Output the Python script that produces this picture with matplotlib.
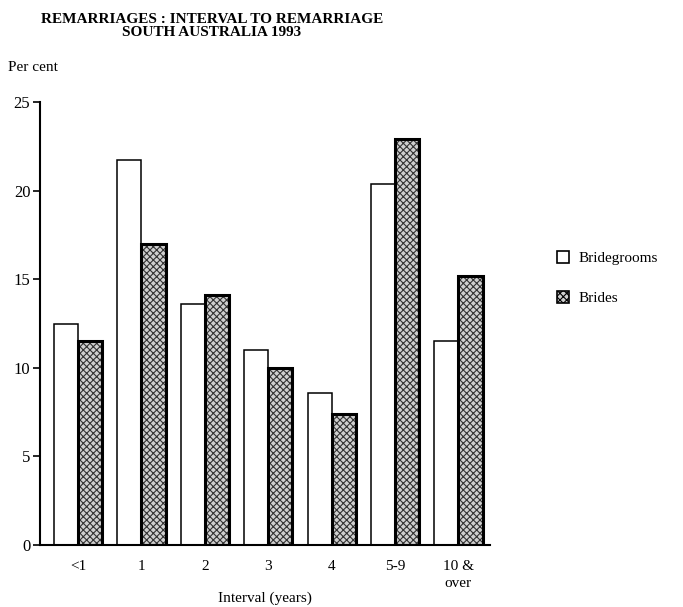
import numpy as np
import matplotlib.pyplot as plt
from matplotlib.patches import Patch

# data
categories = ['<1', '1', '2', '3', '4', '5-9', '10 &\nover']
bridegrooms = [12.5, 21.7, 13.6, 11.0, 8.6, 20.4, 11.5]
brides = [11.5, 17.0, 14.1, 10.0, 7.4, 22.9, 15.2]

plt.rcParams['font.family'] = ['Liberation Serif', 'DejaVu Serif']
plt.rcParams['hatch.color'] = '#333333'
plt.rcParams['hatch.linewidth'] = 0.8

fig = plt.figure(figsize=(6.83, 6.07), dpi=100)
ax = fig.add_axes([0.0586, 0.102, 0.659, 0.730])

x = np.arange(len(categories))
w = 0.38

ax.bar(x - w / 2, bridegrooms, w, facecolor='white', edgecolor='black', linewidth=1.1)
# brides: stippled fill, then a heavy outline on top
ax.bar(x + w / 2, brides, w, facecolor='#cfcfcf', edgecolor='#333333', linewidth=0, hatch='xxxxx')
ax.bar(x + w / 2, brides, w, facecolor='none', edgecolor='black', linewidth=2.2)

ax.set_xlim(-0.6, 6.5)
ax.set_ylim(0, 25)
ax.set_yticks([0, 5, 10, 15, 20, 25])
ax.set_xticks(x)
ax.set_xticklabels(categories, fontsize=11, linespacing=1.4)
ax.tick_params(axis='x', length=0, pad=11)
ax.tick_params(axis='y', length=5, width=1.2, labelsize=12, pad=2)
for side in ['top', 'right']:
    ax.spines[side].set_visible(False)
ax.spines['left'].set_linewidth(1.5)
ax.spines['bottom'].set_linewidth(1.5)

ax.set_xlabel('Interval (years)', fontsize=11)
ax.xaxis.set_label_coords(0.5, -0.104)

fig.text(0.31, 0.978, 'REMARRIAGES : INTERVAL TO REMARRIAGE\nSOUTH AUSTRALIA 1993',
         ha='center', va='top', fontsize=11, fontweight='bold', linespacing=0.95)
fig.text(0.012, 0.888, 'Per cent', fontsize=11, va='center')

handles = [Patch(facecolor='white', edgecolor='black', linewidth=1.2),
           Patch(facecolor='#cfcfcf', edgecolor='black', hatch='xxxxx', linewidth=1.2)]
fig.legend(handles, ['Bridegrooms', 'Brides'], loc='center left',
           bbox_to_anchor=(0.795, 0.542), frameon=False, fontsize=11,
           handlelength=0.8, handleheight=0.8, labelspacing=1.7, handletextpad=0.6)

fig.savefig('out.png', dpi=100)
